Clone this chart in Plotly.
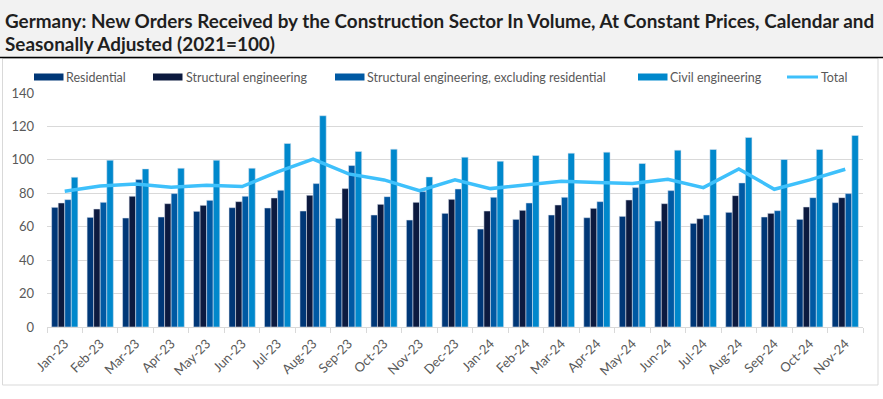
import plotly.graph_objects as go

months = ["Jan-23","Feb-23","Mar-23","Apr-23","May-23","Jun-23","Jul-23","Aug-23","Sep-23","Oct-23","Nov-23","Dec-23",
          "Jan-24","Feb-24","Mar-24","Apr-24","May-24","Jun-24","Jul-24","Aug-24","Sep-24","Oct-24","Nov-24"]
residential = [71.6,65.6,65.2,65.8,69.2,71.4,71.2,69.4,65.0,67.0,64.0,68.0,58.6,64.4,67.0,65.4,66.2,63.4,62.0,68.6,65.8,64.4,74.4]
structural = [74.2,70.6,78.2,73.8,72.8,75.0,77.2,78.8,82.8,73.4,74.6,76.4,69.4,69.8,73.0,71.0,76.0,73.8,64.8,78.6,68.0,71.8,77.4]
structural_ex_res = [76.2,74.6,88.2,79.8,75.8,78.2,81.8,85.8,96.6,78.0,81.0,82.6,77.6,74.2,77.6,75.0,83.4,81.6,67.0,86.2,69.6,77.4,79.8]
civil = [89.6,99.8,94.6,95.0,99.8,95.0,109.8,126.4,105.0,106.4,89.8,101.6,99.2,102.6,104.0,104.6,97.8,105.8,106.2,113.4,100.2,106.2,114.6]
total = [81.2,84.4,85.6,83.6,84.8,84.0,92.8,100.4,91.6,88.0,81.6,88.0,82.8,84.8,87.2,86.4,85.8,88.4,83.4,94.6,82.4,88.0,94.4]

names = ["Residential","Structural engineering","Structural engineering, excluding residential","Civil engineering","Total"]
colors = ["#003777","#0c1a3f","#0059a3","#0088cc","#3ec0fb"]
y_ticks = [0,20,40,60,80,100,120,140]

W, H = 883, 399
L, R, T, B = 47, 20, 93, 72
PW, PH = W - L - R, H - T - B
FONT = "Lato, Liberation Sans, sans-serif"

def px(x):
    return (x - L) / PW

def py(y):
    return (H - B - y) / PH

fig = go.Figure()
for name, vals, col in zip(names[:4], [residential, structural, structural_ex_res, civil], colors[:4]):
    fig.add_trace(go.Bar(x=months, y=vals, name=name, marker=dict(color=col, line=dict(color="rgba(220,228,238,0.9)", width=0.6)),
                         showlegend=False))
fig.add_trace(go.Scatter(x=months, y=total, name=names[4], mode="lines",
                         line=dict(color=colors[4], width=3.5), showlegend=False))

shapes = []
annotations = []
# title band
shapes.append(dict(type="rect", xref="paper", yref="paper", x0=px(-2), x1=px(W + 2), y0=py(57), y1=py(-2),
                   fillcolor="#f2f2f2", line=dict(width=0), layer="below"))
shapes.append(dict(type="line", xref="paper", yref="paper", x0=px(-2), x1=px(W + 2), y0=py(57.5), y1=py(57.5),
                   line=dict(color="#000000", width=1.5)))
# chart border
shapes.append(dict(type="rect", xref="paper", yref="paper", x0=px(2.5), x1=px(878), y0=py(385), y1=py(58.5),
                   line=dict(color="#d9d9d9", width=1), fillcolor="rgba(0,0,0,0)", layer="below"))

title_font = dict(family=FONT, size=18.9, color="#1f1f1f")
annotations.append(dict(xref="paper", yref="paper", x=px(3), y=py(20), xanchor="left", yanchor="middle",
                        text="<b>Germany: New Orders Received by the Construction Sector In Volume, At Constant Prices, Calendar and</b>",
                        showarrow=False, font=title_font))
annotations.append(dict(xref="paper", yref="paper", x=px(3), y=py(43), xanchor="left", yanchor="middle",
                        text="<b>Seasonally Adjusted (2021=100)</b>", showarrow=False, font=title_font))

# custom legend
leg_sym = [34, 153, 335, 638, 787]
leg_txt = [66, 186, 367, 670, 821]
leg_y = 77
leg_font = dict(family=FONT, size=12.5, color="#595959")
for i, (name, col) in enumerate(zip(names, colors)):
    x0 = leg_sym[i]
    if i < 4:
        shapes.append(dict(type="rect", xref="paper", yref="paper", x0=px(x0), x1=px(x0 + 29.5),
                           y0=py(leg_y + 3.5), y1=py(leg_y - 3.5), fillcolor=col, line=dict(width=0)))
    else:
        shapes.append(dict(type="line", xref="paper", yref="paper", x0=px(x0), x1=px(x0 + 31),
                           y0=py(leg_y), y1=py(leg_y), line=dict(color=col, width=3)))
    annotations.append(dict(xref="paper", yref="paper", x=px(leg_txt[i] - 2), y=py(leg_y), xanchor="left", yanchor="middle",
                            text=name, showarrow=False, font=leg_font))

fig.update_layout(
    width=W, height=H,
    margin=dict(l=L, r=R, t=T, b=B, autoexpand=False),
    paper_bgcolor="white", plot_bgcolor="white",
    barmode="group", bargap=0.26, bargroupgap=0,
    shapes=shapes, annotations=annotations,
    font=dict(family=FONT, color="#595959"),
    xaxis=dict(type="category", tickangle=-45, tickfont=dict(size=13, color="#595959"),
               showline=True, linecolor="#d9d9d9", linewidth=1, ticks="outside", tickson="boundaries",
               ticklen=5, tickcolor="#d9d9d9", showgrid=False, ticklabelstandoff=3),
    yaxis=dict(range=[0, 140], tickvals=y_ticks, tickfont=dict(size=13, color="#595959"),
               showgrid=True, gridcolor="#d9d9d9", gridwidth=1, zeroline=False, showline=False,
               ticks="", ticklabelstandoff=12),
)
fig.write_html("out.html", config={"displayModeBar": False},
               post_script="document.body.style.margin='0';document.body.style.overflow='hidden';")
